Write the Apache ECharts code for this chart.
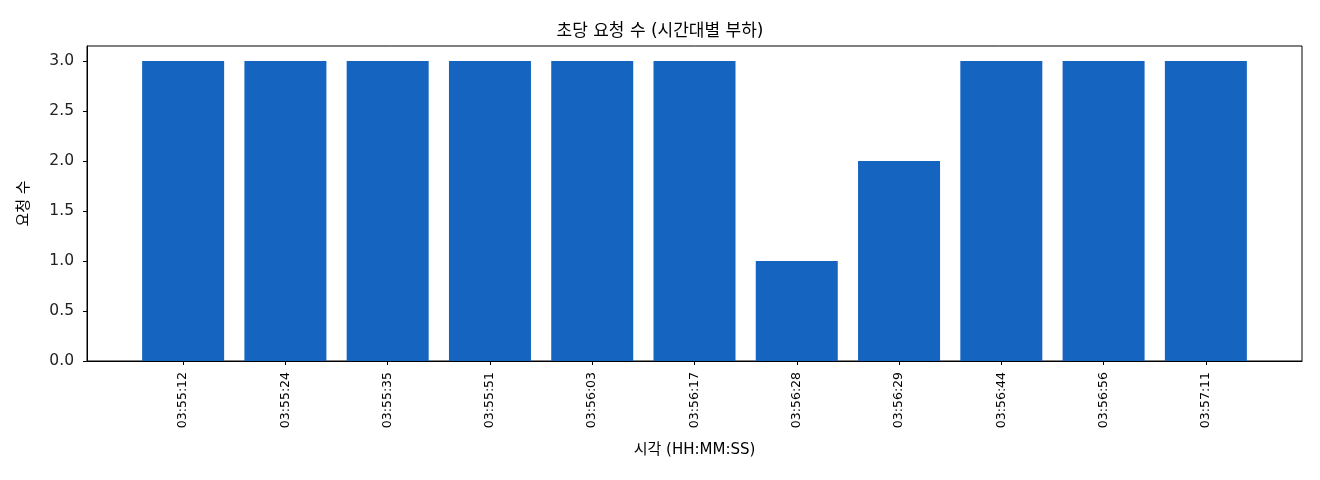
<!DOCTYPE html>
<html>
<head>
<meta charset="utf-8">
<script src="https://cdn.jsdelivr.net/npm/echarts@6/dist/echarts.min.js"></script>
<style>
  html, body { margin: 0; padding: 0; background: #fff; }
  #chart { width: 1320px; height: 480px; }
</style>
</head>
<body>
<div id="chart"></div>
<script>
// 시간대별 요청 수
var timeLabels = ['03:55:12', '03:55:24', '03:55:35', '03:55:51', '03:56:03', '03:56:17',
                  '03:56:28', '03:56:29', '03:56:44', '03:56:56', '03:57:11'];
var requestCounts = [3, 3, 3, 3, 3, 3, 1, 2, 3, 3, 3];
var yTicks = [0, 0.5, 1.0, 1.5, 2.0, 2.5, 3.0];

var font = '"DejaVu Sans", "Noto Sans CJK KR", sans-serif';

var positions = [];
var barData = [];
for (var i = 0; i < timeLabels.length; i++) {
    positions.push(i);
    barData.push([i, requestCounts[i]]);
}

var chart = echarts.init(document.getElementById('chart'), null, { renderer: 'canvas' });
chart.setOption({
    animation: false,
    backgroundColor: '#ffffff',
    title: {
        text: '초당 요청 수 (시간대별 부하)',
        left: 'center',
        top: 18,
        textStyle: { fontFamily: font, fontSize: 17, fontWeight: 'normal', color: '#000' }
    },
    grid: {
        left: 87, right: 18, top: 46, bottom: 119,
        show: true, borderColor: '#000', borderWidth: 1, backgroundColor: 'transparent'
    },
    xAxis: {
        type: 'value',
        min: -0.94,
        max: timeLabels.length - 1 + 0.94,
        name: '시각 (HH:MM:SS)',
        nameLocation: 'middle',
        nameGap: 82,
        nameTextStyle: { fontFamily: font, fontSize: 15, color: '#000' },
        splitLine: { show: false },
        axisLine: { show: true, onZero: false, lineStyle: { color: '#000', width: 1 } },
        axisTick: { show: true, customValues: positions, length: 4, lineStyle: { color: '#000' } },
        axisLabel: {
            customValues: positions,
            rotate: 90,
            margin: 11,
            fontFamily: font,
            fontSize: 12.5,
            color: '#000',
            formatter: function (v) { return timeLabels[Math.round(v)]; }
        }
    },
    yAxis: {
        type: 'value',
        min: 0,
        max: 3.15,
        name: '요청 수',
        nameLocation: 'middle',
        nameGap: 55,
        nameRotate: 90,
        nameTextStyle: { fontFamily: font, fontSize: 15, color: '#000' },
        splitLine: { show: false },
        axisLine: { show: true, onZero: false, lineStyle: { color: '#000', width: 1 } },
        axisTick: { show: true, customValues: yTicks, length: 4, lineStyle: { color: '#000' } },
        axisLabel: {
            customValues: yTicks,
            margin: 13,
            fontFamily: font,
            fontSize: 15.5,
            color: '#222',
            formatter: function (v) { return v.toFixed(1); }
        }
    },
    series: [{
        type: 'bar',
        data: barData,
        barWidth: 82,
        itemStyle: { color: '#1565C0' }
    }]
});
</script>
</body>
</html>
